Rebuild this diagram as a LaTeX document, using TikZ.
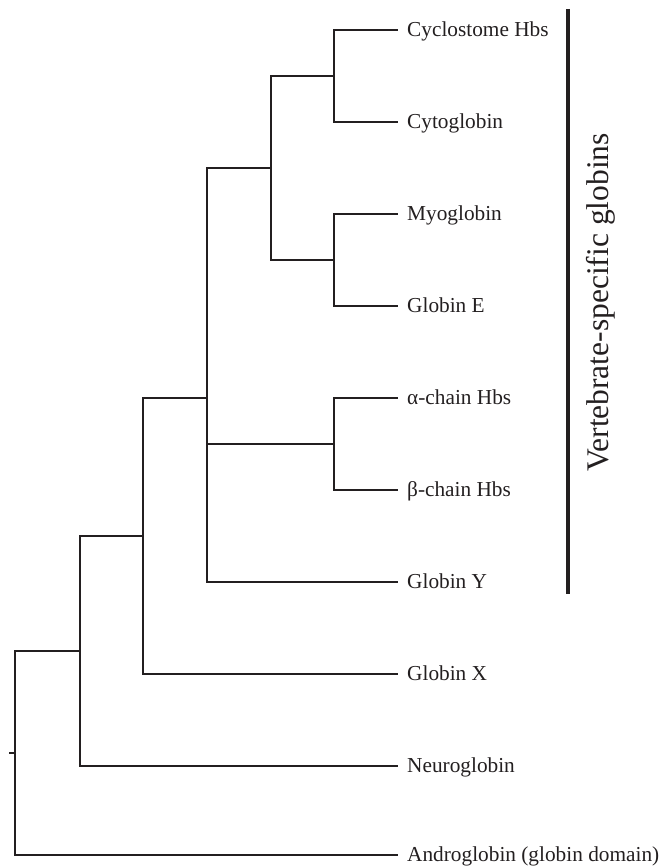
\documentclass[tikz,border=0pt]{standalone}
\usepackage{fontspec}
\setmainfont{Liberation Serif}
\usepackage{xcolor}
\usepackage{tikz}
\usetikzlibrary{positioning, calc}
\definecolor{inkblack}{RGB}{35,31,32}

\begin{document}
\begin{tikzpicture}[x=1pt, y=-1pt]
			\tikzset{branch/.style={draw=inkblack, line width=1.8pt, line join=miter}}
			\tikzset{taxon/.style={anchor=base west, inner sep=0pt, xshift=9pt, yshift=-6.5pt, text=inkblack, font=\fontsize{21.3}{25}\selectfont}}
			\tikzset{group/.style={anchor=base, rotate=90, inner sep=0pt, text=inkblack, font=\fontsize{31.5}{36}\selectfont}}

			\useasboundingbox (0,0) rectangle (668,866);

			% leaf tips
			\coordinate (cyc) at (398,30);
			\coordinate (cygb) at (398,122);
			\coordinate (mb) at (398,214);
			\coordinate (gbe) at (398,306);
			\coordinate (hba) at (398,398);
			\coordinate (hbb) at (398,490);
			\coordinate (gby) at (398,582);
			\coordinate (gbx) at (398,674);
			\coordinate (ngb) at (398,766);
			\coordinate (adgb) at (398,855);

			% internal nodes
			\coordinate (n1) at (334,76);
			\coordinate (n2) at (334,260);
			\coordinate (n3) at (271,168);
			\coordinate (n4) at (334,444);
			\coordinate (n5) at (207,398);
			\coordinate (n6) at (143,536);
			\coordinate (n7) at (80,651);
			\coordinate (n8) at (15,753);
			\coordinate (root) at (9,753);

			\draw[branch] (root) -- (n8);
			\draw[branch] (n8) |- (n7);
			\draw[branch] (n8) |- (adgb);
			\draw[branch] (n7) |- (n6);
			\draw[branch] (n7) |- (ngb);
			\draw[branch] (n6) |- (n5);
			\draw[branch] (n6) |- (gbx);
			\draw[branch] (n5) |- (n3);
			\draw[branch] (n5) |- (n4);
			\draw[branch] (n5) |- (gby);
			\draw[branch] (n3) |- (n1);
			\draw[branch] (n3) |- (n2);
			\draw[branch] (n1) |- (cyc);
			\draw[branch] (n1) |- (cygb);
			\draw[branch] (n2) |- (mb);
			\draw[branch] (n2) |- (gbe);
			\draw[branch] (n4) |- (hba);
			\draw[branch] (n4) |- (hbb);

			\node (cycT) [taxon] at (cyc) {Cyclostome Hbs};
			\node (cygbT) [taxon] at (cygb) {Cytoglobin};
			\node (mbT) [taxon] at (mb) {Myoglobin};
			\node (gbeT) [taxon] at (gbe) {Globin E};
			\node (hbaT) [taxon] at (hba) {α-chain Hbs};
			\node (hbbT) [taxon] at (hbb) {β-chain Hbs};
			\node (gbyT) [taxon] at (gby) {Globin Y};
			\node (gbxT) [taxon] at (gbx) {Globin X};
			\node (ngbT) [taxon] at (ngb) {Neuroglobin};
			\node (adgbT) [taxon] at (adgb) {Androglobin (globin domain)};

			% vertebrate bracket
			\coordinate (barTop) at (568,9);
			\coordinate (barBot) at (568,594);
			\draw[draw=inkblack, line width=4.5pt] (barTop) -- (barBot);
			\node (vsg) [group] at (608,302.5) {Vertebrate-specific globins};

\end{tikzpicture}
\end{document}
